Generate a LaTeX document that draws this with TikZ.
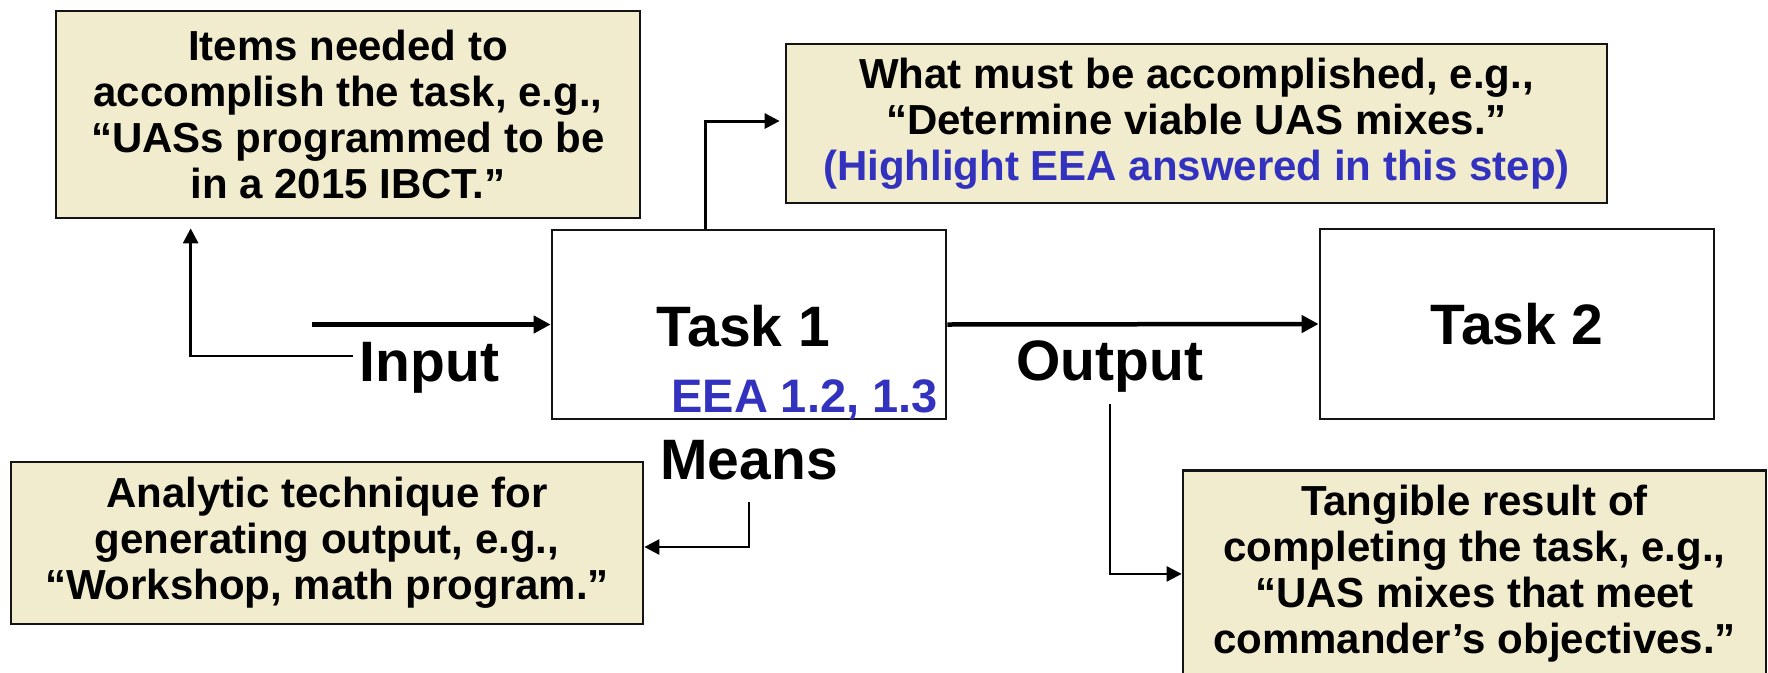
\documentclass[tikz,border=0pt]{standalone}
\usepackage{fontspec}
\setmainfont{Liberation Sans}
\usetikzlibrary{arrows.meta,calc}
\definecolor{boxfill}{RGB}{242,236,206}
\definecolor{eeablue}{RGB}{50,50,190}
\definecolor{edge}{RGB}{20,20,20}
\begin{document}
\begin{tikzpicture}[x=1pt,y=-1pt,
  note/.style={draw=edge,line width=2.7pt,fill=boxfill,align=center,
    font=\fontsize{42}{46}\selectfont\bfseries,inner sep=0pt},
  taskbox/.style={draw=edge,line width=2.7pt,fill=white,inner sep=0pt},
  biglabel/.style={font=\fontsize{57}{60}\selectfont\bfseries,inner sep=0pt},
  flow/.style={line width=4.5pt,-{Triangle[length=17pt,width=17pt]}},
  link/.style={line width=2.7pt,-{Triangle[length=15pt,width=15pt]}}]
\useasboundingbox (0,0) rectangle (1768,672);

% annotation boxes
\node[note,minimum width=584pt,minimum height=207pt] (items) at (348,114.5)
  {Items needed to\\accomplish the task, e.g.,\\“UASs programmed to be\\in a 2015 IBCT.”};
\node[note,minimum width=821pt,minimum height=159pt] (purpose) at (1196.5,123.5)
  {What must be accomplished, e.g.,\\“Determine viable UAS mixes.”\\\textcolor{eeablue}{(Highlight EEA answered in this step)}};
\node[note,minimum width=632pt,minimum height=162pt] (analytic) at (327,543)
  {Analytic technique for\\generating output, e.g.,\\“Workshop, math program.”};
\node[note,minimum width=583pt,inner ysep=15pt,anchor=north] (tangible) at (1474.5,469)
  {Tangible result of\\completing the task, e.g.,\\“UAS mixes that meet\\commander’s objectives.”};

% task boxes
\node[taskbox,minimum width=394pt,minimum height=189pt] (task1) at (749,324.5) {};
\node[biglabel,anchor=base] (task1lbl) at (743.5,346) {Task 1};
\node[font=\fontsize{47}{50}\selectfont\bfseries,text=eeablue,anchor=base east,inner sep=0pt]
  (eea) at (938,412) {EEA 1.2, 1.3};
\node[taskbox,font=\fontsize{57}{60}\selectfont\bfseries,minimum width=394pt,minimum height=190pt]
  (task2) at (1517,324) {Task 2};

% flow labels
\node[biglabel,anchor=base] (inputlbl) at (429.5,381) {Input};
\node[biglabel,anchor=base] (outputlbl) at (1110,380) {Output};
\node[biglabel,anchor=base] (meanslbl) at (749,479) {Means};

% free ends of the connectors
\coordinate (inputstart) at (312,324.5);
\coordinate (inputtail) at (353,356);
\coordinate (meanstail) at (749,502);
\coordinate (outtail) at (1110,404);

% connectors
\draw[flow] (inputstart) -- (task1.west);
\draw[flow] (task1.east) -- (task2.west);
\draw[link] (inputtail) -| ([xshift=136pt,yshift=-9pt]items.south west);
\draw[link,line width=3pt] ([xshift=155pt]task1.north west) |- ([xshift=-5pt,yshift=2.5pt]purpose.west);
\draw[link] (meanstail) |- ([yshift=-4pt]analytic.east);
\draw[link,line width=2.2pt] (outtail) |- (tangible.west);
\end{tikzpicture}
\end{document}
